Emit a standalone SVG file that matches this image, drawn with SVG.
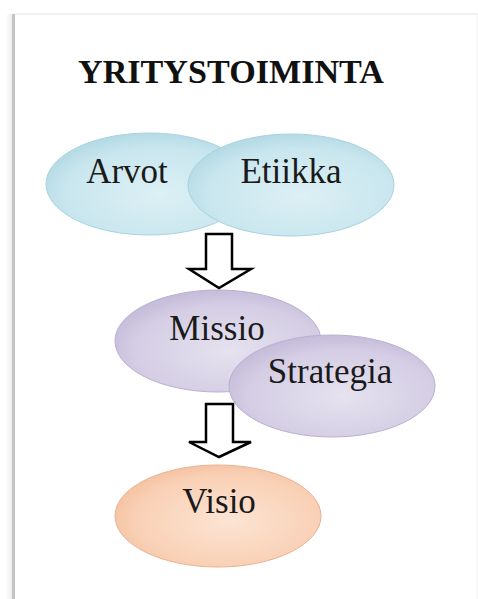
<svg xmlns="http://www.w3.org/2000/svg" width="478" height="599" viewBox="0 0 478 599">
<defs>
<radialGradient id="gBlue" cx="0.55" cy="0.6" r="0.65">
<stop offset="0" stop-color="#dcf0f5"/>
<stop offset="0.7" stop-color="#c9e6ee"/>
<stop offset="1" stop-color="#add7e3"/>
</radialGradient>
<radialGradient id="gPurple" cx="0.55" cy="0.6" r="0.65">
<stop offset="0" stop-color="#e6e2ef"/>
<stop offset="0.7" stop-color="#d4cde4"/>
<stop offset="1" stop-color="#c0b7d6"/>
</radialGradient>
<radialGradient id="gOrange" cx="0.55" cy="0.55" r="0.65">
<stop offset="0" stop-color="#fce4d4"/>
<stop offset="0.7" stop-color="#f9d0b5"/>
<stop offset="1" stop-color="#f2ba95"/>
</radialGradient>
<linearGradient id="gShadow" x1="0" y1="0" x2="1" y2="0">
<stop offset="0" stop-color="#ffffff"/>
<stop offset="1" stop-color="#e6e6e6"/>
</linearGradient>
</defs>
<style>
.lbl{font-size:35px;fill:#1a1a1a;text-anchor:middle}
.title{font-size:33px;font-weight:bold;fill:#111}
.blue{fill:url(#gBlue);stroke:#a9d2de;stroke-width:1}
.purple{fill:url(#gPurple);stroke:#b9b0d0;stroke-width:1}
.orange{fill:url(#gOrange);stroke:#eab294;stroke-width:1}
.arrow{fill:#ffffff;stroke:#000;stroke-width:2.5;stroke-linejoin:miter}
</style>
<rect x="0" y="0" width="478" height="599" fill="#ffffff"/>
<rect x="6" y="14" width="8" height="585" fill="url(#gShadow)"/>
<line x1="13.5" y1="14" x2="13.5" y2="599" stroke="#c4c4c4" stroke-width="3"/>
<line x1="15" y1="14" x2="478" y2="14" stroke="#ececec" stroke-width="1.5"/>
<line x1="477" y1="14" x2="477" y2="599" stroke="#f0f0f0" stroke-width="1"/>
<g font-family="'Liberation Serif', 'Times New Roman', 'DejaVu Serif', serif">
<text class="title" x="78" y="83" textLength="306" lengthAdjust="spacingAndGlyphs">YRITYSTOIMINTA</text>
<g id="arvot">
<ellipse class="blue" cx="149" cy="184" rx="103" ry="51"/>
<text class="lbl" x="127" y="183">Arvot</text>
</g>
<g id="etiikka">
<ellipse class="blue" cx="291" cy="185" rx="103" ry="51"/>
<text class="lbl" x="291" y="183">Etiikka</text>
</g>
<g id="missio">
<ellipse class="purple" cx="218" cy="341" rx="103" ry="51"/>
<text class="lbl" x="217" y="340">Missio</text>
</g>
<g id="strategia">
<ellipse class="purple" cx="332" cy="386" rx="103" ry="51"/>
<text class="lbl" x="330" y="383">Strategia</text>
</g>
<g id="visio">
<ellipse class="orange" cx="218" cy="516" rx="103" ry="51"/>
<text class="lbl" x="219" y="513">Visio</text>
</g>
</g>
<g id="connectors">
<path class="arrow" d="M206,234 L232,234 L232,269 L251,269 L219,288 L189,269 L206,269 Z"/>
<path class="arrow" d="M206,404 L233,404 L233,442 L251,442 L219,457 L189,442 L206,442 Z"/>
</g>
</svg>
